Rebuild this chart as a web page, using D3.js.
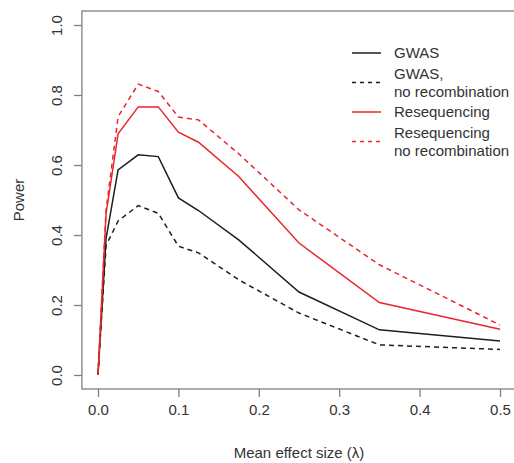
<!DOCTYPE html>
<html>
<head>
<meta charset="UTF-8">
<title>Power vs mean effect size</title>
<script src="https://d3js.org/d3.v7.min.js"></script>
<style>
  body { margin: 0; background: #fff; }
  svg text { font-family: "Liberation Sans", Arial, Helvetica, sans-serif; fill: #333; }
</style>
</head>
<body>
<svg width="514" height="463"></svg>
<script>
// effect sizes sampled in the simulation
const effectSizes = [0, 0.01, 0.025, 0.05, 0.075, 0.1, 0.125, 0.175, 0.25, 0.35, 0.5];

// power for each design
const gwas          = [0, 0.39, 0.586, 0.629, 0.624, 0.506, 0.470, 0.386, 0.237, 0.129, 0.097];
const gwasNoRec     = [0, 0.37, 0.440, 0.484, 0.462, 0.368, 0.349, 0.272, 0.177, 0.086, 0.073];
const reseq         = [0, 0.46, 0.689, 0.766, 0.766, 0.694, 0.665, 0.567, 0.377, 0.207, 0.131];
const reseqNoRec    = [0, 0.47, 0.738, 0.831, 0.810, 0.737, 0.729, 0.632, 0.472, 0.315, 0.143];

const seriesNames = ["GWAS", "GWAS,\nno recombination", "Resequencing", "Resequencing\nno recombination"];
const xTicks = [0, 0.1, 0.2, 0.3, 0.4, 0.5];
const yTicks = [0, 0.2, 0.4, 0.6, 0.8, 1.0];

const svg = d3.select("svg");

const red = "#e8262d", black = "#1e1e1e", axisGrey = "#808080";

const series = [
    {name: seriesNames[0], values: gwas,       color: black, dash: null},
    {name: seriesNames[1], values: gwasNoRec,  color: black, dash: "5,4"},
    {name: seriesNames[2], values: reseq,      color: red,   dash: null},
    {name: seriesNames[3], values: reseqNoRec, color: red,   dash: "5,4"}
];

const x = d3.scaleLinear().domain([0, 0.5]).range([98, 500]);
const y = d3.scaleLinear().domain([0, 1]).range([375, 25]);

// R style box: 4% padding past the data range
const bx0 = x(-0.02), bx1 = x(0.52), by0 = y(1.04), by1 = y(-0.04);

const xAxis = svg.append("g")
    .attr("transform", `translate(0,${by1})`)
    .call(d3.axisBottom(x).tickValues(xTicks).tickSize(8).tickPadding(7).tickFormat(d3.format(".1f")));
xAxis.select(".domain").remove();

const yAxis = svg.append("g")
    .attr("transform", `translate(${bx0},0)`)
    .call(d3.axisLeft(y).tickValues(yTicks).tickSize(8).tickFormat(d3.format(".1f")));
yAxis.select(".domain").remove();

svg.selectAll(".tick line").attr("stroke", axisGrey).attr("stroke-width", 1.3);
xAxis.selectAll(".tick text").attr("font-size", 15).attr("fill", "#333").attr("dy", "0.72em");
yAxis.selectAll(".tick text")
    .attr("font-size", 15).attr("fill", "#333")
    .attr("x", null).attr("dy", null)
    .attr("text-anchor", "middle")
    .attr("transform", "translate(-20,0) rotate(-90)");

svg.append("rect")
    .attr("x", bx0).attr("y", by0)
    .attr("width", bx1 - bx0).attr("height", by1 - by0)
    .attr("fill", "none").attr("stroke", axisGrey).attr("stroke-width", 1.3);

const line = d3.line()
    .x((d, i) => x(effectSizes[i]))
    .y(d => y(d));

svg.selectAll(".series")
    .data(series)
    .join("path")
    .attr("class", "series")
    .attr("d", d => line(d.values))
    .attr("fill", "none")
    .attr("stroke", d => d.color)
    .attr("stroke-width", 1.5)
    .attr("stroke-dasharray", d => d.dash);

// axis titles
svg.append("text")
    .attr("x", (bx0 + bx1) / 2).attr("y", 458)
    .attr("text-anchor", "middle").attr("font-size", 15)
    .text("Mean effect size (\u03bb)");

svg.append("text")
    .attr("transform", `translate(24,${(by0 + by1) / 2}) rotate(-90)`)
    .attr("text-anchor", "middle").attr("font-size", 15)
    .text("Power");

// legend
const legend = svg.append("g").attr("transform", "translate(352,53)");
const lineH = 18, entryGap = 2.5;
let row = 0;
series.forEach((s, i) => {
    const parts = s.name.split("\n");
    const top = row * lineH + i * entryGap;
    const mid = top + (parts.length - 1) * lineH / 2;
    legend.append("line")
        .attr("x1", 0).attr("x2", 29)
        .attr("y1", mid).attr("y2", mid)
        .attr("stroke", s.color).attr("stroke-width", 1.5)
        .attr("stroke-dasharray", s.dash ? "4,4" : null);
    parts.forEach((p, j) => {
        legend.append("text")
            .attr("x", 42).attr("y", top + j * lineH)
            .attr("dy", "0.36em").attr("font-size", 15)
            .text(p);
    });
    row += parts.length;
});
</script>
</body>
</html>
